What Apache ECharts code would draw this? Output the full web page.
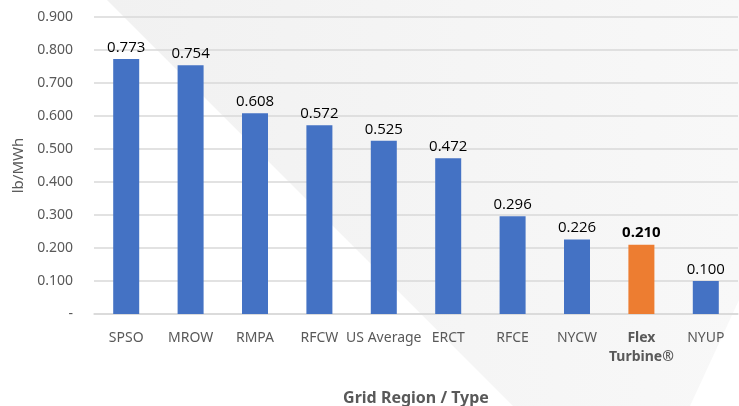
<!DOCTYPE html>
<html>
<head>
<meta charset="utf-8">
<script src="https://cdn.jsdelivr.net/npm/echarts@6/dist/echarts.min.js"></script>
<style>
html, body { margin: 0; padding: 0; background: #fff; }
#chart { width: 739px; height: 406px; }
</style>
</head>
<body>
<div id="chart"></div>
<script>
var categories = ['SPSO', 'MROW', 'RMPA', 'RFCW', 'US Average', 'ERCT', 'RFCE', 'NYCW', 'Flex\nTurbine®', 'NYUP'];
var values = [0.773, 0.754, 0.608, 0.572, 0.525, 0.472, 0.296, 0.226, 0.210, 0.100];
var highlightIndex = 8;
var yTickLabels = ['-', '0.100', '0.200', '0.300', '0.400', '0.500', '0.600', '0.700', '0.800', '0.900'];

var myChart = echarts.init(document.getElementById('chart'));

var barData = values.map(function (v, i) {
    if (i === highlightIndex) {
        return {
            value: v,
            itemStyle: { color: '#ED7D31' },
            label: { fontWeight: 'bold' }
        };
    }
    return v;
});

myChart.setOption({
    backgroundColor: '#ffffff',
    animation: false,
    graphic: [{
        type: 'polygon',
        z: -10,
        silent: true,
        shape: {
            points: [[107, 0], [739, 0], [739, 300], [690, 406], [513, 406]]
        },
        style: {
            fill: new echarts.graphic.LinearGradient(0, 0, 1, 0, [
                { offset: 0, color: '#f1f1f1' },
                { offset: 1, color: '#f8f8f8' }
            ])
        }
    }],
    grid: {
        left: 94,
        right: 1,
        top: 17,
        bottom: 92,
        containLabel: false,
        outerBoundsMode: 'none'
    },
    xAxis: {
        type: 'category',
        data: categories,
        name: 'Grid Region / Type',
        nameLocation: 'middle',
        nameGap: 76,
        nameTextStyle: {
            color: '#595959',
            fontSize: 16,
            fontWeight: 'bold',
            fontFamily: 'Noto Sans'
        },
        axisLine: { lineStyle: { color: '#d9d9d9', width: 1.5 } },
        axisTick: { show: false },
        axisLabel: {
            interval: 0,
            margin: 15,
            color: '#595959',
            fontSize: 14,
            fontFamily: 'Noto Sans',
            lineHeight: 19,
            formatter: function (v) {
                if (v.indexOf('Flex') === 0) {
                    return '{b|' + v.replace('\n', '}\n{b|') + '}';
                }
                return v;
            },
            rich: {
                b: {
                    fontWeight: 'bold',
                    color: '#595959',
                    fontSize: 14,
                    fontFamily: 'Noto Sans',
                    lineHeight: 19
                }
            }
        }
    },
    yAxis: {
        type: 'value',
        min: 0,
        max: 0.9,
        interval: 0.1,
        name: 'lb/MWh',
        nameLocation: 'middle',
        nameRotate: 90,
        nameGap: 63,
        nameTextStyle: {
            color: '#595959',
            fontSize: 15,
            fontFamily: 'Noto Sans'
        },
        axisLine: { show: false },
        axisTick: { show: false },
        splitLine: { lineStyle: { color: '#d9d9d9', width: 1.5 } },
        axisLabel: {
            margin: 21,
            color: '#595959',
            fontSize: 14,
            fontFamily: 'Noto Sans',
            formatter: function (v) {
                return yTickLabels[Math.round(v * 10)];
            }
        }
    },
    series: [{
        type: 'bar',
        data: barData,
        barWidth: 26,
        itemStyle: { color: '#4472C4' },
        label: {
            show: true,
            position: 'top',
            distance: 4,
            color: '#000000',
            fontSize: 15,
            fontFamily: 'Open Sans',
            formatter: function (p) {
                return p.value.toFixed(3);
            }
        }
    }]
});
</script>
</body>
</html>
